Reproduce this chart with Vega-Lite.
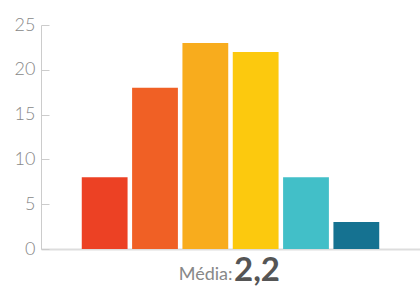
{
  "$schema": "https://vega.github.io/schema/vega-lite/v6.json",
  "width": 379,
  "height": 224,
  "autosize": "none",
  "padding": {"left": 41, "top": 25, "right": 0, "bottom": 38},
  "background": "white",
  "config": {"view": {"stroke": null}, "font": "Lato"},
  "data": {"values": [
    {"cat": "1", "n": 8, "c": "#EC4124"},
    {"cat": "2", "n": 18, "c": "#F06025"},
    {"cat": "3", "n": 23, "c": "#F8AC1D"},
    {"cat": "4", "n": 22, "c": "#FCC90E"},
    {"cat": "5", "n": 8, "c": "#42BFC8"},
    {"cat": "6", "n": 3, "c": "#157291"}
  ]},
  "title": {
    "text": "2,2",
    "orient": "bottom",
    "anchor": "start",
    "frame": "group",
    "dx": 193,
    "offset": -28,
    "font": "Lato",
    "fontSize": 33,
    "fontWeight": "bold",
    "color": "#555555",
    "baseline": "top"
  },
  "mark": {"type": "bar"},
  "encoding": {
    "x": {
      "field": "cat", "type": "nominal", "sort": null,
      "scale": {"paddingInner": 0.09, "paddingOuter": 0.81},
      "axis": {
        "labels": false, "ticks": false,
        "domainColor": "#dddddd", "domainWidth": 2,
        "title": "Média:", "titleFont": "Lato", "titleFontSize": 18,
        "titleFontWeight": "normal", "titleColor": "#888888",
        "titleAlign": "right", "titleX": 191, "titleY": 30, "titleBaseline": "alphabetic"
      }
    },
    "y": {
      "field": "n", "type": "quantitative",
      "scale": {"domain": [0, 25]},
      "axis": {
        "values": [0, 5, 10, 15, 20, 25], "grid": false, "title": null,
        "domainColor": "#cccccc", "tickColor": "#cccccc", "tickSize": -8,
        "labelFont": "Lato", "labelFontSize": 18, "labelFontWeight": 300,
        "labelColor": "#888888", "labelPadding": 14
      }
    },
    "color": {"field": "c", "type": "nominal", "scale": null, "legend": null}
  }
}
